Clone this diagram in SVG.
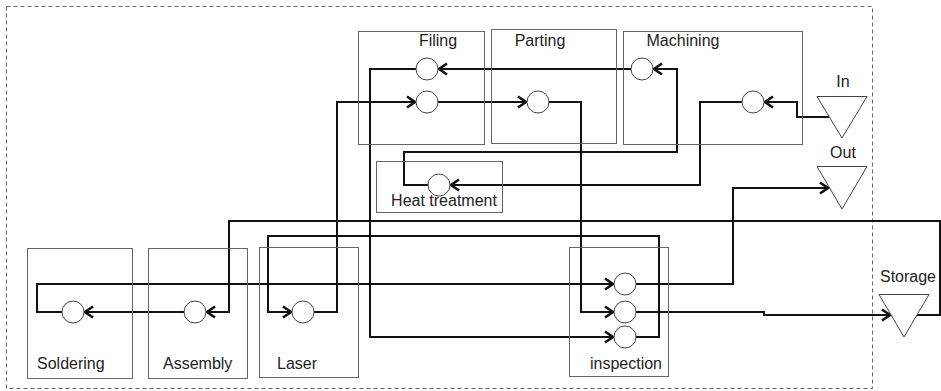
<svg xmlns="http://www.w3.org/2000/svg" width="941" height="391" viewBox="0 0 941 391">
<style>
.box{fill:none;stroke:#666;stroke-width:1}
.c{fill:#fff;stroke:#444;stroke-width:1}
.tri{fill:#fff;stroke:#444;stroke-width:1}
.lbl{font-family:"Liberation Sans",Arial,sans-serif;font-size:16px;fill:#222}
.e{fill:none;stroke:#111;stroke-width:2;stroke-linejoin:miter}
</style>
<defs>
<marker id="arr" markerUnits="userSpaceOnUse" markerWidth="16" markerHeight="16" viewBox="-12 -8 16 16" refX="0" refY="0" orient="auto" overflow="visible">
<path d="M-9,-5.5 L-1,0 L-9,5.5" fill="none" stroke="#111" stroke-width="2.6"/>
</marker>
</defs>
<rect x="6.5" y="6.5" width="866" height="382" fill="none" stroke="#666" stroke-width="1" stroke-dasharray="4 3"/>
<g id="connectors">
<path class="e" d="M829,117 H797 V102 H764" marker-end="url(#arr)"/>
<path class="e" d="M742,102 H700 V185 H450" marker-end="url(#arr)"/>
<path class="e" d="M428,185 H404 V152 H677 V69 H653" marker-end="url(#arr)"/>
<path class="e" d="M631,69 H438" marker-end="url(#arr)"/>
<path class="e" d="M416,69 H370 V337 H614" marker-end="url(#arr)"/>
<path class="e" d="M636,337 H659 V236 H268 V312 H292" marker-end="url(#arr)"/>
<path class="e" d="M314,312 H337 V102 H416" marker-end="url(#arr)"/>
<path class="e" d="M438,102 H527" marker-end="url(#arr)"/>
<path class="e" d="M549,102 H581 V312 H614" marker-end="url(#arr)"/>
<path class="e" d="M636,312 H764 V315 H891" marker-end="url(#arr)"/>
<path class="e" d="M917,315 H940 V221 H229 V312 H206" marker-end="url(#arr)"/>
<path class="e" d="M184,312 H84" marker-end="url(#arr)"/>
<path class="e" d="M62,312 H37 V284 H614" marker-end="url(#arr)"/>
<path class="e" d="M636,284 H733 V188 H829" marker-end="url(#arr)"/>
</g>
<g id="filing">
<rect class="box" x="358.5" y="31.5" width="126" height="113"/>
<text class="lbl" x="438" y="46" text-anchor="middle">Filing</text>
<circle class="c" cx="427" cy="69" r="11"/>
<circle class="c" cx="427" cy="102" r="11"/>
</g>
<g id="parting">
<rect class="box" x="491.5" y="29.5" width="125" height="114"/>
<text class="lbl" x="540" y="46" text-anchor="middle">Parting</text>
<circle class="c" cx="538" cy="102" r="11"/>
</g>
<g id="machining">
<rect class="box" x="623.5" y="31.5" width="179" height="113"/>
<text class="lbl" x="683" y="46" text-anchor="middle">Machining</text>
<circle class="c" cx="642" cy="69" r="11"/>
<circle class="c" cx="753" cy="102" r="11"/>
</g>
<g id="heat">
<rect class="box" x="376.5" y="161.5" width="126" height="51"/>
<circle class="c" cx="439" cy="185" r="11"/>
<text class="lbl" x="444" y="206" text-anchor="middle">Heat treatment</text>
</g>
<g id="in">
<text class="lbl" x="843" y="87" text-anchor="middle">In</text>
<polygon class="tri" points="817,96.5 867,96.5 842,138"/>
</g>
<g id="out">
<text class="lbl" x="843" y="158" text-anchor="middle">Out</text>
<polygon class="tri" points="817,166.5 867,166.5 842,209"/>
</g>
<g id="storage">
<text class="lbl" x="908" y="282" text-anchor="middle">Storage</text>
<polygon class="tri" points="879,294.5 929,294.5 904,337"/>
</g>
<g id="soldering">
<rect class="box" x="27.5" y="248.5" width="105" height="130"/>
<circle class="c" cx="73" cy="312" r="11"/>
<text class="lbl" x="37" y="369">Soldering</text>
</g>
<g id="assembly">
<rect class="box" x="148.5" y="248.5" width="99" height="130"/>
<circle class="c" cx="195" cy="312" r="11"/>
<text class="lbl" x="163" y="369">Assembly</text>
</g>
<g id="laser">
<rect class="box" x="259.5" y="247.5" width="99" height="130"/>
<circle class="c" cx="303" cy="312" r="11"/>
<text class="lbl" x="277" y="369">Laser</text>
</g>
<g id="inspection">
<rect class="box" x="569.5" y="247.5" width="99" height="129"/>
<circle class="c" cx="625" cy="284" r="11"/>
<circle class="c" cx="625" cy="312" r="11"/>
<circle class="c" cx="625" cy="337" r="11"/>
<text class="lbl" x="662" y="369" text-anchor="end">inspection</text>
</g>
</svg>
